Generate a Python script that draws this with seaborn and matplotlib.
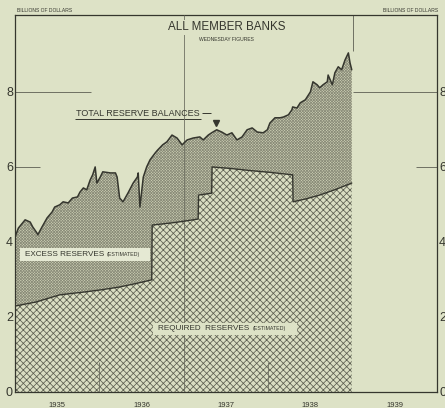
import matplotlib
matplotlib.use("Agg")
import matplotlib.pyplot as plt
from matplotlib.patches import Rectangle
import seaborn as sns
import pandas as pd

# total reserve balances, wednesday figures (billions of dollars)
total_year = [
    1935.00, 1935.04, 1935.12, 1935.18, 1935.21, 1935.26, 1935.27, 1935.32,
    1935.38, 1935.44, 1935.47, 1935.53, 1935.57, 1935.63, 1935.68, 1935.74,
    1935.77, 1935.81, 1935.85, 1935.89, 1935.92, 1935.95, 1935.97, 1936.01,
    1936.04, 1936.13, 1936.19, 1936.21, 1936.24, 1936.28, 1936.34, 1936.40,
    1936.45, 1936.46, 1936.48, 1936.52, 1936.56, 1936.60, 1936.66, 1936.69,
    1936.75, 1936.80, 1936.86, 1936.92, 1936.98, 1937.04, 1937.11, 1937.19,
    1937.23, 1937.29, 1937.33, 1937.39, 1937.45, 1937.51, 1937.57, 1937.63,
    1937.69, 1937.75, 1937.81, 1937.87, 1937.94, 1937.99, 1938.02, 1938.08,
    1938.14, 1938.18, 1938.24, 1938.28, 1938.29, 1938.34, 1938.38, 1938.44,
    1938.50, 1938.53, 1938.58, 1938.61, 1938.65, 1938.70, 1938.71, 1938.76,
    1938.79, 1938.83, 1938.87, 1938.91, 1938.95, 1938.97, 1938.99,
]
total_value = [
    4.13, 4.37, 4.59, 4.53, 4.40, 4.24, 4.19, 4.40,
    4.64, 4.80, 4.93, 4.99, 5.07, 5.04, 5.17, 5.20,
    5.33, 5.44, 5.39, 5.65, 5.79, 6.00, 5.57, 5.73,
    5.87, 5.84, 5.84, 5.73, 5.17, 5.07, 5.31, 5.57,
    5.73, 5.84, 4.93, 5.73, 6.00, 6.19, 6.37, 6.45,
    6.59, 6.67, 6.85, 6.77, 6.59, 6.72, 6.77, 6.80,
    6.72, 6.85, 6.91, 6.99, 6.93, 6.85, 6.91, 6.72,
    6.80, 6.99, 7.04, 6.93, 6.91, 6.99, 7.17, 7.31,
    7.31, 7.33, 7.39, 7.52, 7.60, 7.57, 7.71, 7.79,
    8.00, 8.27, 8.19, 8.11, 8.19, 8.27, 8.45, 8.19,
    8.51, 8.67, 8.59, 8.85, 9.04, 8.77, 8.59,
]

# required reserves (estimated), steps at the requirement changes
req_year = [
    1935.00, 1935.25, 1935.53, 1935.80, 1936.01, 1936.24, 1936.45, 1936.62,
    1936.625, 1936.90, 1937.17, 1937.175, 1937.33, 1937.335, 1937.55, 1937.80,
    1938.00, 1938.29, 1938.295, 1938.45, 1938.61, 1938.80, 1938.99,
]
req_value = [
    2.29, 2.40, 2.59, 2.66, 2.72, 2.80, 2.90, 2.99,
    4.45, 4.52, 4.61, 5.25, 5.30, 6.00, 5.96, 5.90,
    5.86, 5.79, 5.07, 5.15, 5.25, 5.40, 5.57,
]

years = [1935, 1936, 1937, 1938, 1939]
y_ticks = [0, 2, 4, 6, 8]

BG = "#dde2c6"
INK = "#35362e"
RULE = "#6e7062"

sns.set_theme(style="white")
plt.rcParams["font.family"] = ["Liberation Sans", "DejaVu Sans"]
plt.rcParams["hatch.linewidth"] = 0.55

total_df = pd.DataFrame({"year": total_year, "value": total_value})
req_df = pd.DataFrame({"year": req_year, "value": req_value})

fig = plt.figure(figsize=(4.45, 4.08), dpi=100, facecolor=BG)
ax = fig.add_axes([15 / 445, 16 / 408, 422 / 445, 377 / 408], facecolor=BG)

# excess reserves: fine stipple between required and total
merged_x = sorted(set(total_year) | set(req_year))
tot_i = pd.Series(total_value, index=total_year).reindex(merged_x).interpolate(method="index")
req_i = pd.Series(req_value, index=req_year).reindex(merged_x).interpolate(method="index")
ax.fill_between(merged_x, req_i.values, tot_i.values, facecolor="#cfd2b6",
                edgecolor="#8a8c79", hatch="x" * 12, linewidth=0, zorder=2)
# required reserves: coarse cross hatch
ax.fill_between(req_year, 0, req_value, facecolor="#d9ddc1",
                edgecolor="#5d5f51", hatch="xxxxx", linewidth=0, zorder=2)

sns.lineplot(data=total_df, x="year", y="value", ax=ax, color=INK, lw=1.1,
             estimator=None, sort=False, zorder=4)
sns.lineplot(data=req_df, x="year", y="value", ax=ax, color=INK, lw=1.0,
             estimator=None, sort=False, zorder=4)

# partial rulings like the original
grid_kw = dict(color=RULE, lw=0.7, zorder=1)
ax.hlines(8, 1935, 1935.9, **grid_kw)
ax.hlines(6, 1935, 1935.3, **grid_kw)
ax.hlines(8, 1939, 1940, **grid_kw)
ax.hlines(6, 1939.75, 1940, **grid_kw)
ax.vlines(1937, 0, 10.05, color=RULE, lw=0.6, zorder=3)
ax.vlines(1939, 9.1, 10.05, **grid_kw)
ax.vlines([1936, 1938], 0, 0.8, color=RULE, lw=0.6, zorder=3)

ax.set_xlim(1935, 1940)
ax.set_ylim(0, 10.05)
ax.set_xticks([y + 0.5 for y in years])
ax.set_xticklabels([str(y) for y in years], fontsize=5.5, color=INK)
ax.set_yticks(y_ticks)
ax.set_yticklabels([str(v) for v in y_ticks], fontsize=9, color=INK)
ax.tick_params(axis="x", length=0, pad=7)
ax.tick_params(axis="y", length=0, pad=1.5, labelright=True, right=False)
ax.set_xlabel("")
ax.set_ylabel("")
for s in ax.spines.values():
    s.set_color(INK)
    s.set_linewidth(0.9)

# titles
ax.text(1937.51, 9.72, "ALL MEMBER BANKS", ha="center", va="center",
        fontsize=8.4, color=INK, zorder=6,
        bbox=dict(boxstyle="square,pad=0.1", fc=BG, ec="none"))
ax.text(1937.51, 9.40, "WEDNESDAY FIGURES", ha="center", va="center",
        fontsize=3.6, color=INK)
fig.text(17 / 445, 1 - 10 / 408, "BILLIONS OF DOLLARS", ha="left",
         va="center", fontsize=3.6, color=INK)
fig.text(438 / 445, 1 - 10 / 408, "BILLIONS OF DOLLARS", ha="right",
         va="center", fontsize=3.6, color=INK)

# series labels
ax.text(1935.72, 7.43, "TOTAL RESERVE BALANCES", ha="left", va="center",
        fontsize=6.5, color=INK)
ax.hlines(7.28, 1935.71, 1937.2, color=INK, lw=0.7)
ax.hlines(7.43, 1937.22, 1937.32, color=INK, lw=0.7)
ax.plot([1937.38], [7.17], marker="v", markersize=5, color=INK, zorder=5)

ax.add_patch(Rectangle((1935.06, 3.49), 1.54, 0.34, fc="#e5e9d3", ec="none",
                       zorder=5))
ax.text(1935.12, 3.66, "EXCESS RESERVES", ha="left", va="center",
        fontsize=5.9, color=INK, zorder=6)
ax.text(1936.08, 3.66, "(ESTIMATED)", ha="left", va="center",
        fontsize=3.8, color=INK, zorder=6)

ax.add_patch(Rectangle((1936.64, 1.52), 1.70, 0.32, fc=BG, ec="none",
                       zorder=5))
ax.text(1936.70, 1.68, "REQUIRED  RESERVES", ha="left", va="center",
        fontsize=5.9, color=INK, zorder=6)
ax.text(1937.82, 1.68, "(ESTIMATED)", ha="left", va="center",
        fontsize=3.8, color=INK, zorder=6)

fig.savefig("out.png", dpi=100, facecolor=BG)
